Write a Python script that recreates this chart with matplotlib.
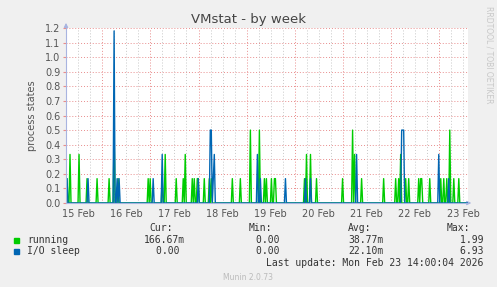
import numpy as np
import matplotlib
matplotlib.use("Agg")
import matplotlib.pyplot as plt

# time axis in days of February (15.0 = Feb 15 00:00), 30 min samples
t_start = 15.245
t_end = 23.603
step = 1 / 48

day_labels = ["15 Feb", "16 Feb", "17 Feb", "18 Feb", "19 Feb",
              "20 Feb", "21 Feb", "22 Feb", "23 Feb"]
day_label_pos = [15.5, 16.5, 17.5, 18.5, 19.5, 20.5, 21.5, 22.5, 23.5]

# non-zero samples (time in days, value)
running_t = [15.266, 15.328, 15.516, 15.68, 15.89, 16.14, 16.24, 16.33,
             16.95, 16.99, 17.24, 17.30, 17.53, 17.68, 17.72, 17.86,
             17.91, 17.97, 17.99, 18.11, 18.22, 18.26, 18.70, 18.86,
             19.07, 19.26, 19.38, 19.42, 19.51, 19.57, 19.60, 20.21,
             20.25, 20.32, 20.46, 21.00, 21.21, 21.25, 21.40, 21.85,
             22.10, 22.16, 22.20, 22.31, 22.37, 22.58, 22.62, 22.65,
             22.81, 23.04, 23.10, 23.16, 23.23, 23.31, 23.42]
running_v = [0.167, 0.333, 0.333, 0.167, 0.167, 0.167, 0.5, 0.167,
             0.167, 0.167, 0.167, 0.333, 0.167, 0.167, 0.333, 0.167,
             0.167, 0.167, 0.167, 0.167, 0.167, 0.167, 0.167, 0.167,
             0.5, 0.5, 0.167, 0.167, 0.167, 0.167, 0.167, 0.167,
             0.333, 0.333, 0.167, 0.167, 0.5, 0.333, 0.167, 0.167,
             0.167, 0.167, 0.333, 0.167, 0.167, 0.167, 0.167, 0.167,
             0.167, 0.167, 0.167, 0.167, 0.5, 0.167, 0.167]

iosleep_t = [15.25, 15.27, 15.70, 16.24, 16.31, 16.35, 17.05, 17.24,
             17.99, 18.24, 18.26, 18.31, 18.33, 19.22, 19.28, 19.80,
             20.23, 20.32, 21.29, 22.23, 22.25, 22.27, 23.00, 23.21]
iosleep_v = [0.167, 0.167, 0.167, 1.18, 0.167, 0.167, 0.167, 0.333,
             0.167, 0.5, 0.5, 0.167, 0.333, 0.333, 0.167, 0.167,
             0.167, 0.167, 0.333, 0.5, 0.5, 0.5, 0.333, 0.167]

legend_rows = [
    ("running", "#00cc00", "166.67m", "0.00 ", "38.77m", "1.99 "),
    ("I/O sleep", "#0066b3", "0.00 ", "0.00 ", "22.10m", "6.93 "),
]


def build_series(times, values):
    n = int(round((t_end - t_start) / step)) + 1
    t = t_start + np.arange(n) * step
    y = np.zeros(n)
    for ti, vi in zip(times, values):
        i = int(round((ti - t_start) / step))
        if 0 <= i < n:
            y[i] = vi
    return t, y


W, H = 497, 287
fig = plt.figure(figsize=(W / 100, H / 100), dpi=100)
fig.patch.set_facecolor("#f0f0f0")

ax = fig.add_axes([66 / W, (H - 203) / H, (468 - 66) / W, (203 - 28) / H])
ax.set_facecolor("white")
ax.set_xlim(t_start, t_end)
ax.set_ylim(0, 1.2)

# grid
red_grid = "#e88c8c"
for yv in np.arange(0.1, 1.21, 0.1):
    ax.axhline(yv, color=red_grid, lw=0.7, ls=(0, (1, 2)), zorder=1)
d = 15.25
while d < t_end:
    if abs(d - round(d)) < 1e-6:
        ax.axvline(d, color=red_grid, lw=0.7, ls=(0, (1, 2)), zorder=1)
    else:
        ax.axvline(d, color="#c8c8c8", lw=0.7, ls=(0, (1, 2)), zorder=1)
    d += 0.25

t, yr = build_series(running_t, running_v)
ax.plot(t, yr, color="#00cc00", lw=1.0, zorder=3)
t, yi = build_series(iosleep_t, iosleep_v)
ax.plot(t, yi, color="#0066b3", lw=1.0, zorder=4)

for s in ["top", "right"]:
    ax.spines[s].set_visible(False)
for s in ["left", "bottom"]:
    ax.spines[s].set_color("#a8b4e0")
    ax.spines[s].set_linewidth(0.8)
    ax.spines[s].set_zorder(5)

# axis arrows
ax.annotate("", xy=(0, 1.045), xytext=(0, 0.99), xycoords="axes fraction",
            arrowprops=dict(arrowstyle="-|>", color="#a8b4e0", lw=0.8,
                            mutation_scale=6), annotation_clip=False)
ax.annotate("", xy=(1.015, 0), xytext=(0.99, 0), xycoords="axes fraction",
            arrowprops=dict(arrowstyle="-|>", color="#a8b4e0", lw=0.8,
                            mutation_scale=6), annotation_clip=False)

ax.set_yticks(np.arange(0, 1.21, 0.1))
ax.set_yticklabels(["%.1f" % v for v in np.arange(0, 1.21, 0.1)])
ax.set_xticks(day_label_pos)
ax.set_xticklabels(day_labels)
ax.tick_params(axis="y", length=2, color=red_grid, labelsize=7,
               labelcolor="#555555", pad=2)
ax.tick_params(axis="x", length=0, labelsize=7, labelcolor="#555555", pad=4)

ax.set_ylabel("process states", fontsize=7, color="#555555", labelpad=6)

fig.text(0.5, 1 - 19 / H, "VMstat - by week", ha="center", va="center",
         fontsize=9.5, color="#444444")
fig.text(489 / W, 1 - 6 / H, "RRDTOOL / TOBI OETIKER", rotation=270,
         ha="center", va="top", fontsize=5.5, color="#c8c8c8")

# legend block
mono = dict(family="DejaVu Sans Mono", fontsize=7, color="#333333",
            va="center")
for x, txt in [(149, "Cur:"), (249, "Min:"), (348, "Avg:"), (447, "Max:")]:
    fig.text(x / W, 1 - 228 / H, txt, **mono)
right_edges = [185, 285, 384, 489]
for k, (name, col, cur, mn, avg, mx) in enumerate(legend_rows):
    y = 1 - (240 + 11 * k) / H
    fig.patches.append(plt.Rectangle((14 / W, y - 2.5 / H), 5 / W, 5 / H,
                                     transform=fig.transFigure,
                                     color=col, figure=fig))
    fig.text(27 / W, y, name, **mono)
    for xr, val in zip(right_edges, [cur, mn, avg, mx]):
        fig.text(xr / W, y, val, ha="right", **mono)
fig.text(483 / W, 1 - 263 / H, "Last update: Mon Feb 23 14:00:04 2026",
         ha="right", **mono)
fig.text(248 / W, 1 - 277 / H, "Munin 2.0.73", ha="center", va="center",
         fontsize=5.5, color="#bbbbbb")

fig.savefig("out.png", dpi=100, facecolor=fig.get_facecolor())
